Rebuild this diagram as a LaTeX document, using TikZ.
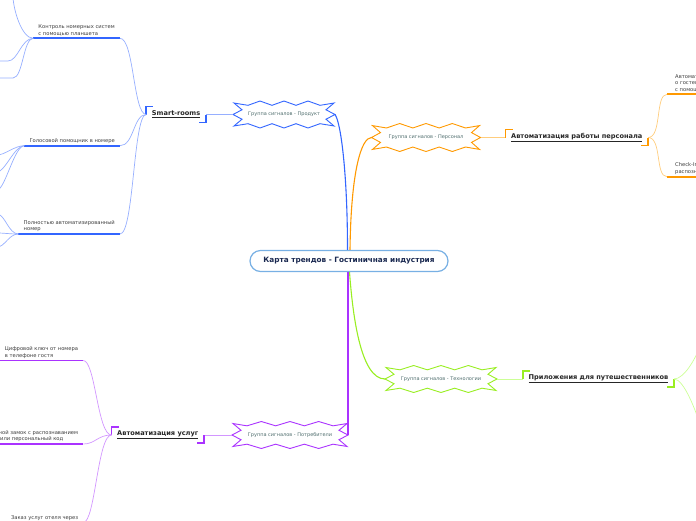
\documentclass[tikz,border=0pt]{standalone}
\usepackage{fontspec}
\setmainfont{DejaVu Sans}

\definecolor{prodblue}{RGB}{51,102,255}
\definecolor{prodlight}{RGB}{150,175,255}
\definecolor{persorange}{RGB}{255,153,0}
\definecolor{perslight}{RGB}{255,205,125}
\definecolor{techgreen}{RGB}{153,238,34}
\definecolor{techlight}{RGB}{204,255,150}
\definecolor{conspurple}{RGB}{170,51,255}
\definecolor{conslight}{RGB}{210,150,255}
\definecolor{titleblue}{RGB}{120,176,228}
\definecolor{titletext}{RGB}{25,40,80}
\definecolor{signaltext}{RGB}{80,110,110}
\definecolor{leaftext}{RGB}{60,60,60}

\tikzset{
  title/.style={draw=titleblue, line width=1.2pt, rounded corners=10.5pt, fill=white,
    minimum width=198pt, minimum height=21pt, font=\bfseries\fontsize{7.3}{8}\selectfont, text=titletext},
  signal/.style={font=\fontsize{5}{6}\selectfont, text=signaltext, inner sep=0pt},
  topic/.style={font=\bfseries\fontsize{6.6}{8}\selectfont, inner xsep=5.5pt, minimum height=15.5pt, text=black!85},
  leaf/.style={font=\fontsize{5.2}{6.6}\selectfont, align=left, inner xsep=5pt, inner ysep=2pt, text=leaftext},
  trunk/.style={line width=1.1pt},
  twig/.style={line width=0.7pt},
  under/.style={line width=1.8pt},
  bracket/.style={line width=1.8pt}
}

% zigzag outline round a signal group: node, half width, half height, colour
\newcommand\signalstar[4]{%
  \begin{scope}[shift={(#1.center)}]
    \coordinate (#1-l) at (-#2,0);
    \coordinate (#1-r) at (#2,0);
    \draw[#4, line width=0.9pt, line join=miter] (#1-l) -- (-#2+9,-0.35*#3) -- (-#2+1,-0.85*#3) -- (-#2+15,-0.68*#3)
      \foreach \i in {1,...,5} { -- ({-#2+15+\i*(2*#2-30)/6},{-#3*(0.84-0.16*cos(180*\i))}) }
      -- (#2-15,-0.68*#3) -- (#2-1,-0.85*#3) -- (#2-9,-0.35*#3) -- (#1-r)
      -- (#2-9,0.35*#3) -- (#2-1,0.85*#3) -- (#2-15,0.68*#3)
      \foreach \i in {1,...,5} { -- ({#2-15-\i*(2*#2-30)/6},{#3*(0.84-0.16*cos(180*\i))}) }
      -- (-#2+15,0.68*#3) -- (-#2+1,0.85*#3) -- (-#2+9,0.35*#3) -- cycle;
  \end{scope}}

\begin{document}
\begin{tikzpicture}[x=1pt,y=-1pt]
\useasboundingbox (0,0) rectangle (696,520);
\clip (0,0) rectangle (696,520);

\node[title] (map) at (349,261) {Карта трендов - Гостиничная индустрия};

% signal groups
\node[signal] (prod) at (284,114.5) {Группа сигналов - Продукт};
\node[signal] (pers) at (426,137.5) {Группа сигналов - Персонал};
\node[signal] (tech) at (441,379) {Группа сигналов - Технологии};
\node[signal] (cons) at (290,435) {Группа сигналов - Потребители};
\signalstar{prod}{51}{13.5}{prodblue}
\signalstar{pers}{54.5}{14}{persorange}
\signalstar{tech}{56}{13.5}{techgreen}
\signalstar{cons}{58}{13.5}{conspurple}

\draw[trunk, prodblue] ([xshift=-1.5pt]map.north) .. controls +(0,-75) and +(6,8) .. (prod-r);
\draw[trunk, persorange] ([xshift=1pt]map.north) .. controls +(1,-80) and +(-10,0) .. (pers-l);
\draw[trunk, techgreen] ([xshift=0.5pt]map.south) .. controls +(3,40) and +(-25,0) .. (tech-l);
\draw[trunk, conspurple] (map.south -| cons-r) -- (cons-r);

% topics
\node[topic, anchor=east] (smart) at ([xshift=-27pt]prod-l) {\underline{Smart-rooms}};
\node[topic, anchor=west] (staff) at ([xshift=25pt]pers-r) {\underline{Автоматизация работы персонала}};
\node[topic, anchor=west] (apps) at ([xshift=26pt]tech-r) {\underline{Приложения для путешественников}};
\node[topic, anchor=east] (serv) at ([xshift=-28pt]cons-l) {\underline{Автоматизация услуг}};

\draw[twig, prodlight] (prod-l) -- (smart.east);
\draw[twig, perslight] (pers-r) -- (staff.west);
\draw[twig, techlight] (tech-r) -- (apps.west);
\draw[twig, conslight] (cons-l) -- (serv.east);

\draw[bracket, prodblue] (smart.west) |- ([xshift=7pt]smart.north west);
\draw[bracket, prodblue] (smart.east) |- ([xshift=-7pt]smart.south east);
\draw[bracket, persorange] (staff.west) |- ([xshift=7pt]staff.north west);
\draw[bracket, persorange] (staff.east) |- ([xshift=-7pt]staff.south east);
\draw[bracket, techgreen] (apps.west) |- ([xshift=7pt]apps.north west);
\draw[bracket, techgreen] (apps.east) |- ([xshift=-7pt]apps.south east);
\draw[bracket, conspurple] (serv.west) |- ([xshift=7pt]serv.north west);
\draw[bracket, conspurple] (serv.east) |- ([xshift=-7pt]serv.south east);

% Smart-rooms
\node[leaf, anchor=south east] (tablet) at (120,38.3) {Контроль номерных систем\\с помощью планшета};
\node[leaf, anchor=south east] (voice) at (120,145.7) {Голосовой помощник в номере};
\node[leaf, anchor=south east] (autoroom) at (120,234) {Полностью автоматизированный\\номер};
\foreach \n in {tablet,voice,autoroom} {
  \draw[under, prodblue] (\n.south west) -- (\n.south east);
  \draw[twig, prodlight] (smart.west) .. controls +(-13,0) and +(14,0) .. (\n.south east);
}
\coordinate (t0) at (13,-4);
\coordinate (t1) at (8,61);
\coordinate (t2) at (13,78);
\draw[twig, prodlight] (tablet.south west) .. controls +(-12,0) and +(0,12) .. (t0);
\draw[twig, prodlight] (tablet.south west) .. controls +(-12,0) and +(10,0) .. (t1) -- +(-12,0);
\draw[twig, prodlight] (tablet.south west) .. controls +(-10,0) and +(10,0) .. (t2) -- +(-16,0);
\coordinate (v1) at (-3,155);
\coordinate (v2) at (-3,172);
\coordinate (v3) at (-3,190);
\coordinate (a1) at (-3,214);
\coordinate (a2) at (-3,233);
\coordinate (a3) at (-3,247);
\foreach \c in {v1,v2,v3} \draw[twig, prodlight] (voice.south west) .. controls +(-10,0) and +(8,0) .. (\c);
\foreach \c in {a1,a2,a3} \draw[twig, prodlight] (autoroom.south west) .. controls +(-10,0) and +(8,0) .. (\c);

% staff
\node[leaf, anchor=south west, inner xsep=8pt] (guestdata) at (667,94.3) {Автоматизация сбора данных\\о гостевых предпочтениях\\с помощью CRM};
\node[leaf, anchor=south west, inner xsep=8pt] (checkin) at (667,176.7) {Check-In по\\распознаванию лица};
\foreach \n in {guestdata,checkin} {
  \draw[under, persorange] (\n.south west) -- (\n.south east);
  \draw[twig, perslight] (staff.east) .. controls +(14,0) and +(-12,0) .. (\n.south west);
}

% travel apps
\coordinate (app1) at (700,346);
\coordinate (app2) at (700,424);
\draw[twig, techlight] (apps.east) .. controls +(10,0) and +(-4,12) .. (app1);
\draw[twig, techlight] (apps.east) .. controls +(10,0) and +(-4,-12) .. (app2);

% services
\node[leaf, anchor=south east] (key) at (83.3,360.5) {Цифровой ключ от номера\\в телефоне гостя};
\node[leaf, anchor=south east] (lock) at (83.3,444) {Дверной замок с распознаванием\\лица или персональный код};
\node[leaf, anchor=south east] (order) at (83.3,522.5) {Заказ услуг отеля через};
\foreach \n in {key,lock,order} {
  \draw[under, conspurple] (\n.south west) -- (\n.south east);
  \draw[twig, conslight] (serv.west) .. controls +(-14,0) and +(12,0) .. (\n.south east);
}

\end{tikzpicture}
\end{document}
